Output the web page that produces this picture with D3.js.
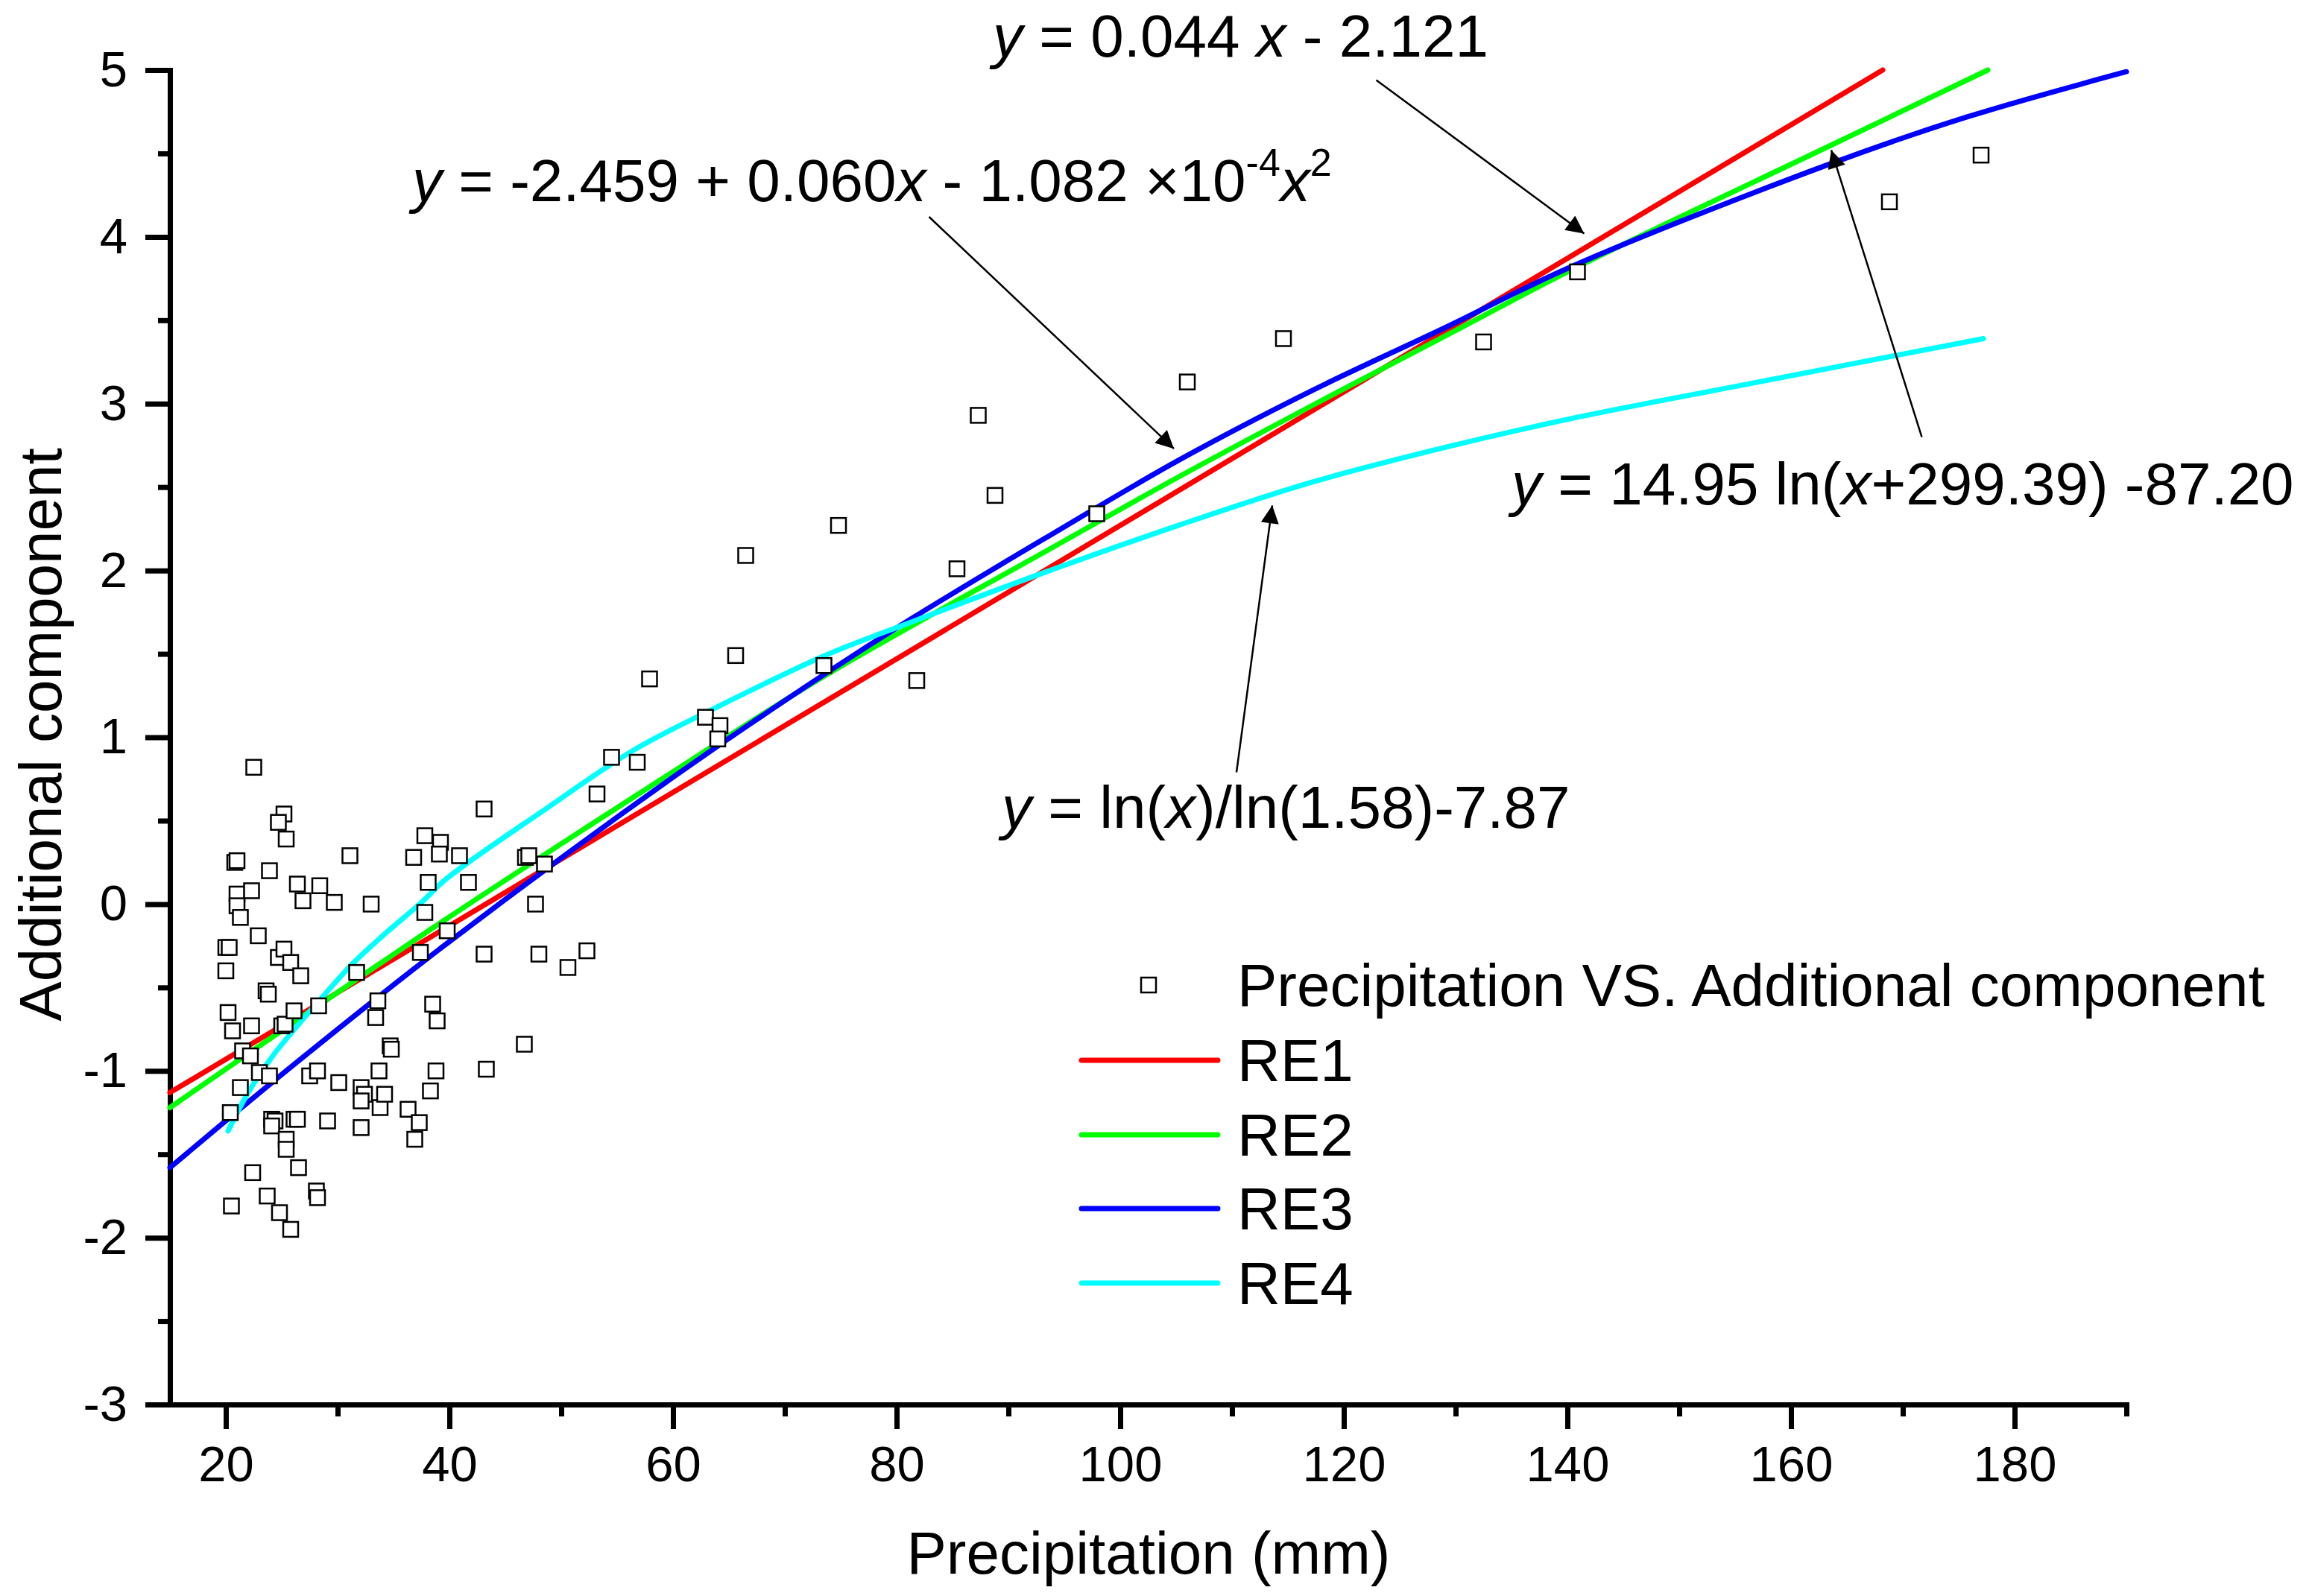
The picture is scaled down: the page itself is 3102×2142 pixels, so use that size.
<!DOCTYPE html>
<meta charset="utf-8">
<style>

body {
  margin: 0;
  background: #fff;
}

text {
  font-family: "Liberation Sans", Arial, sans-serif;
  fill: #000;
}

.axis path, .axis line {
  stroke: #000;
  stroke-width: 7px;
}

.axis text {
  font-size: 67px;
}

</style>
<body>
<svg id="chart"></svg>
</body>
<script src="https://d3js.org/d3.v7.min.js"></script>
<script>

// scatter: precipitation (mm) vs additional component
var precipitation = [
  22.5, 25.2, 24.7, 25.4, 20.8, 21.0, 23.9, 31.1, 37.8, 39.2, 36.8, 39.1, 38.1, 26.4, 28.4, 26.9,
  29.7, 33.0, 21.0, 21.0, 22.3, 21.3, 22.9, 37.8, 20.0, 20.3, 20.0, 24.7, 25.2, 25.8, 26.7, 31.7,
  37.4, 23.6, 23.8, 20.2, 20.6, 22.3, 25.0, 25.3, 26.1, 28.3, 33.6, 33.4, 38.5, 38.9, 21.5, 22.2,
  23.0, 23.9, 27.5, 28.2, 30.1, 33.7, 34.7, 34.8, 38.8, 21.3, 20.4, 24.1, 24.4, 24.1, 26.1, 26.4,
  29.1, 32.1, 32.4, 32.1, 33.8, 34.2, 32.1, 36.3, 37.3, 38.3, 36.9, 25.4, 25.4, 26.5, 22.4, 28.1,
  28.2, 23.7, 20.5, 24.8, 25.8, 40.9, 41.7, 43.1, 46.8, 47.1, 48.5, 47.7, 39.8, 43.1, 48.0, 50.6,
  52.3, 46.7, 43.3, 53.2, 54.5, 56.8, 57.9, 62.9, 64.2, 64.0, 65.6, 66.5, 73.5, 74.8, 81.8, 85.4,
  87.3, 88.8, 97.9, 106.0, 114.6, 132.5, 140.9, 168.8, 177.0
];
var component = [
  0.82, 0.54, 0.49, 0.39, 0.25, 0.26, 0.20, 0.29, 0.41, 0.37, 0.28, 0.30, 0.13, 0.12, 0.11, 0.02,
  0.01, 0.00, 0.06, -0.01, 0.08, -0.08, -0.19, -0.05, -0.26, -0.26, -0.40, -0.32, -0.27, -0.35, -0.43, -0.41,
  -0.29, -0.52, -0.54, -0.65, -0.76, -0.73, -0.73, -0.72, -0.64, -0.61, -0.58, -0.68, -0.60, -0.70, -0.88, -0.91,
  -1.01, -1.03, -1.03, -1.00, -1.07, -1.00, -0.85, -0.87, -1.00, -1.10, -1.25, -1.29, -1.30, -1.33, -1.29, -1.29,
  -1.30, -1.10, -1.14, -1.18, -1.22, -1.14, -1.34, -1.23, -1.31, -1.12, -1.41, -1.41, -1.47, -1.58, -1.61, -1.72,
  -1.76, -1.75, -1.81, -1.85, -1.95, 0.29, 0.13, 0.57, 0.28, 0.29, 0.24, 0.00, -0.16, -0.30, -0.30, -0.38,
  -0.28, -0.84, -0.99, 0.66, 0.88, 0.85, 1.35, 1.12, 1.07, 0.99, 1.49, 2.09, 1.43, 2.27, 1.34, 2.01,
  2.93, 2.45, 2.34, 3.13, 3.39, 3.37, 3.79, 4.21, 4.49
];

// fitted curves as [x, y]
var re1 = [[15, -1.13], [90, 1.87], [168.2, 5.0]];
var re2 = [[15, -1.22], [26.5, -0.69], [39.7, -0.09], [59, 0.75], [73.6, 1.37], [93.2, 2.11],
           [105.2, 2.56], [117.2, 2.99], [129.2, 3.41], [140.9, 3.82], [163.6, 4.55], [177.6, 5.0]];
var re3 = [[15, -1.58], [26.5, -0.94], [39.7, -0.24], [60, 0.76], [73.6, 1.38], [81.3, 1.71],
           [93.2, 2.19], [105.2, 2.66], [117.2, 3.08], [129.2, 3.46], [140.3, 3.82], [163.6, 4.44],
           [175.8, 4.72], [190, 4.99]];
var re4 = [[20.2, -1.36], [22, -1.13], [24.2, -0.91], [26.4, -0.73], [28.6, -0.56], [31.3, -0.36],
           [34.2, -0.18], [37.5, 0.01], [39.7, 0.15], [48.6, 0.57], [56.4, 0.92], [63.3, 1.16],
           [73.6, 1.49], [81.3, 1.69], [93.3, 1.99], [105.2, 2.27], [117.2, 2.53], [129.2, 2.74],
           [140.3, 2.91], [157.1, 3.13], [177.2, 3.39]];

var seriesNames = ["RE1", "RE2", "RE3", "RE4"];
var seriesColors = ["#ff0000", "#00ff00", "#0000ff", "#00ffff"];

var xTicks = [20, 40, 60, 80, 100, 120, 140, 160, 180];
var xMinor = [30, 50, 70, 90, 110, 130, 150, 170, 190];
var yTicks = [-3, -2, -1, 0, 1, 2, 3, 4, 5];
var yMinor = [-2.5, -1.5, -0.5, 0.5, 1.5, 2.5, 3.5, 4.5];

// annotation arrows (tail -> head) in data units
var arrowFrom = [[122.9, 4.94], [82.9, 4.12], [171.7, 2.80], [110.4, 0.79]];
var arrowTo = [[141.5, 4.02], [104.8, 2.73], [163.6, 4.52], [113.6, 2.39]];

var W = 3102,
    H = 2142;

var svg = d3.select("#chart")
    .attr("width", W)
    .attr("height", H);

var x = d3.scaleLinear().domain([15, 190]).range([228, 2853]);
var y = d3.scaleLinear().domain([-3, 5]).range([1885, 94]);

// axes
var fmt = function(d) { return String(d); };

svg.append("g")
    .attr("class", "axis")
    .attr("transform", "translate(0," + y(-3) + ")")
    .call(d3.axisBottom(x).tickValues(xMinor).tickSize(16).tickSizeOuter(0).tickFormat(""));

svg.append("g")
    .attr("class", "axis")
    .attr("transform", "translate(0," + y(-3) + ")")
    .call(d3.axisBottom(x).tickValues(xTicks).tickSize(33).tickSizeOuter(0).tickPadding(22).tickFormat(fmt));

svg.append("g")
    .attr("class", "axis")
    .attr("transform", "translate(" + x(15) + ",0)")
    .call(d3.axisLeft(y).tickValues(yMinor).tickSize(16).tickSizeOuter(0).tickFormat(""));

svg.append("g")
    .attr("class", "axis")
    .attr("transform", "translate(" + x(15) + ",0)")
    .call(d3.axisLeft(y).tickValues(yTicks).tickSize(33).tickSizeOuter(0).tickPadding(24).tickFormat(fmt));

svg.selectAll(".axis path").attr("stroke-linecap", "square");

// axis titles
svg.append("text")
    .attr("x", 1541)
    .attr("y", 2112)
    .attr("text-anchor", "middle")
    .style("font-size", "80px")
    .text("Precipitation (mm)");

svg.append("text")
    .attr("transform", "translate(82,986) rotate(-90)")
    .attr("text-anchor", "middle")
    .style("font-size", "80px")
    .text("Additional component");

// curves
var line = d3.line()
    .x(function(d) { return x(d[0]); })
    .y(function(d) { return y(d[1]); })
    .curve(d3.curveCatmullRom);

var curves = [re1, re2, re3, re4];

svg.append("g").selectAll("path")
    .data(curves)
  .enter().append("path")
    .attr("d", line)
    .attr("fill", "none")
    .attr("stroke", function(d, i) { return seriesColors[i]; })
    .attr("stroke-width", 7)
    .attr("stroke-linecap", "round");

// scatter squares
var s = 20;
svg.append("g").selectAll("rect")
    .data(precipitation)
  .enter().append("rect")
    .attr("x", function(d) { return x(d) - s / 2; })
    .attr("y", function(d, i) { return y(component[i]) - s / 2; })
    .attr("width", s)
    .attr("height", s)
    .attr("fill", "#fff")
    .attr("stroke", "#000")
    .attr("stroke-width", 2.5);

// arrows
svg.append("defs").append("marker")
    .attr("id", "head")
    .attr("viewBox", "0 0 10 10")
    .attr("refX", 10)
    .attr("refY", 5)
    .attr("markerWidth", 40)
    .attr("markerHeight", 24)
    .attr("markerUnits", "userSpaceOnUse")
    .attr("orient", "auto")
  .append("path")
    .attr("d", "M0,0 L10,5 L0,10 z")
    .attr("fill", "#000");

svg.append("g").selectAll("line")
    .data(arrowFrom)
  .enter().append("line")
    .attr("x1", function(d) { return x(d[0]); })
    .attr("y1", function(d) { return y(d[1]); })
    .attr("x2", function(d, i) { return x(arrowTo[i][0]); })
    .attr("y2", function(d, i) { return y(arrowTo[i][1]); })
    .attr("stroke", "#000")
    .attr("stroke-width", 2.5)
    .attr("marker-end", "url(#head)");

// equations
function equation(px, py, parts) {
  var t = svg.append("text")
      .attr("x", px)
      .attr("y", py)
      .style("font-size", "80px");
  parts.forEach(function(p) {
    var sp = t.append("tspan").text(p.t);
    if (p.i) sp.style("font-style", "italic");
    if (p.sup) sp.style("font-size", "52px").attr("dy", -34);
    if (p.back) sp.attr("dy", 34);
  });
}

equation(1332, 76, [
  {t: "y", i: true}, {t: " = 0.044 "}, {t: "x", i: true}, {t: " - 2.121"}
]);
equation(553, 270, [
  {t: "y", i: true}, {t: " = -2.459 + 0.060"}, {t: "x", i: true}, {t: " - 1.082 \u00d710"},
  {t: "-4", sup: true}, {t: "x", i: true, back: true}, {t: "2", sup: true}
]);
equation(2028, 677, [
  {t: "y", i: true}, {t: " = 14.95 ln("}, {t: "x", i: true}, {t: "+299.39) -87.20"}
]);
equation(1344, 1111, [
  {t: "y", i: true}, {t: " = ln("}, {t: "x", i: true}, {t: ")/ln(1.58)-7.87"}
]);

// legend
var legend = svg.append("g");
var rowY = [1322, 1423, 1523, 1622, 1722];

legend.append("rect")
    .attr("x", 1541 - s / 2)
    .attr("y", rowY[0] - s / 2)
    .attr("width", s)
    .attr("height", s)
    .attr("fill", "#fff")
    .attr("stroke", "#000")
    .attr("stroke-width", 2.5);

legend.append("text")
    .attr("x", 1660)
    .attr("y", rowY[0] + 28)
    .style("font-size", "80px")
    .text("Precipitation VS. Additional component");

seriesNames.forEach(function(name, i) {
  legend.append("line")
      .attr("x1", 1451)
      .attr("x2", 1634)
      .attr("y1", rowY[i + 1])
      .attr("y2", rowY[i + 1])
      .attr("stroke", seriesColors[i])
      .attr("stroke-width", 7)
      .attr("stroke-linecap", "round");
  legend.append("text")
      .attr("x", 1660)
      .attr("y", rowY[i + 1] + 28)
      .style("font-size", "80px")
      .text(name);
});

</script>
